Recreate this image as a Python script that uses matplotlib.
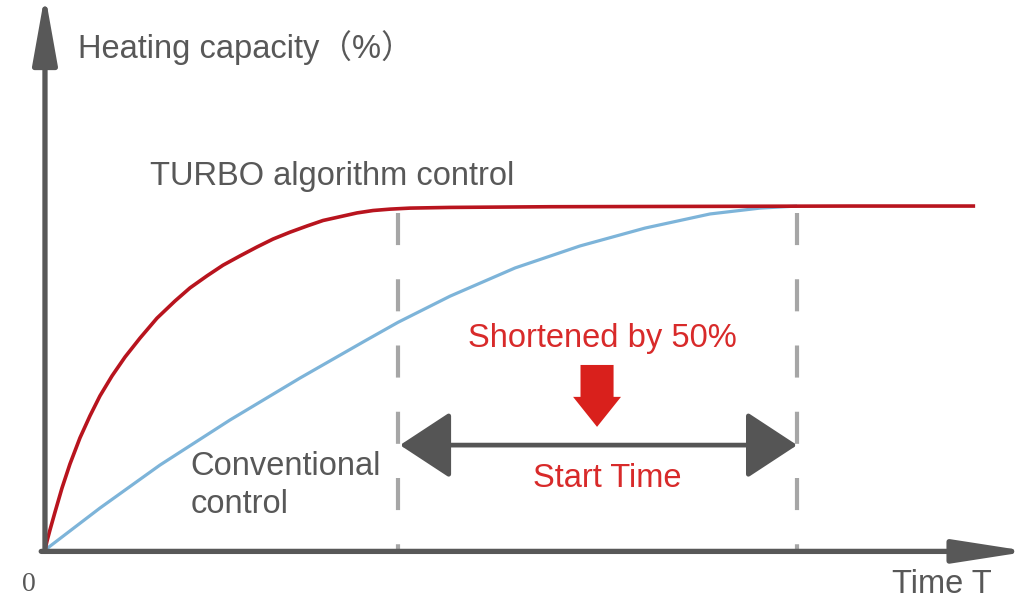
import matplotlib
matplotlib.use('Agg')
import matplotlib.pyplot as plt

# Curves: time (arbitrary units), heating capacity (%)
turbo_t = [0, 0.027, 0.066, 0.133, 0.226, 0.332, 0.465, 0.598, 0.731, 0.891,
           1.064, 1.263, 1.489, 1.729, 1.928, 2.154, 2.367, 2.593, 2.819, 3.032,
           3.258, 3.484, 3.697, 3.923, 4.149, 4.362, 4.588, 4.854, 5.386, 6.715,
           8.710, 10.705, 12.367]
turbo_cap = [0, 2.6, 5.8, 11.0, 18.0, 25.0, 32.6, 39.0, 44.8, 50.6,
             56.1, 61.6, 67.4, 72.4, 76.2, 79.7, 82.8, 85.5, 88.1, 90.4,
             92.4, 94.2, 95.8, 96.9, 98.0, 98.7, 99.1, 99.4, 99.6, 99.8,
             99.9, 100, 100]

conv_t = [0, 0.731, 1.529, 2.460, 3.391, 4.255, 4.694, 5.386, 6.250, 7.114,
          7.979, 8.843, 9.508, 10.0]
conv_cap = [0, 12.2, 24.7, 37.8, 50.0, 60.8, 66.2, 73.8, 82.0, 88.4,
            93.6, 97.7, 99.4, 100]

turbo_done = 4.69   # time the TURBO curve reaches full capacity
conv_done = 10.0    # time the conventional curve reaches full capacity

axis_gray = '#585858'
red_text = '#d82a2a'
font = ['Liberation Sans', 'Noto Sans CJK SC', 'DejaVu Sans']
fs = 23.5

fig = plt.figure(figsize=(10.25, 5.98), dpi=100)
ax = fig.add_axes([0, 0, 1, 1])
ax.set_xlim(-0.598, 13.03)
ax.set_ylim(-13.95, 159.9)
ax.axis('off')

# curves
ax.plot(conv_t, conv_cap, color='#7db4d9', lw=2.3, solid_capstyle='butt',
        solid_joinstyle='round', zorder=3)
ax.plot(turbo_t, turbo_cap, color='#b8141e', lw=2.6, solid_capstyle='butt',
        solid_joinstyle='round', zorder=4)

# dashed markers at the two finishing times
for t in (turbo_done, conv_done):
    ax.plot([t, t], [98.0, 0.3], color='#a6a6a6', lw=3,
            linestyle=(0, (7.7, 8.2)), zorder=2)

# axes with arrow heads
ax.annotate('', xy=(0, 161.6), xytext=(0, -0.4), annotation_clip=False,
            arrowprops=dict(arrowstyle='-|>,head_length=42,head_width=7.5',
                            mutation_scale=1, color=axis_gray, lw=3.8,
                            shrinkA=0, shrinkB=0), zorder=5)
ax.annotate('', xy=(13.08, -0.4), xytext=(-0.05, -0.4), annotation_clip=False,
            arrowprops=dict(arrowstyle='-|>,head_length=45,head_width=7',
                            mutation_scale=1, color=axis_gray, lw=3.8,
                            shrinkA=0, shrinkB=0), zorder=5)

# double arrow for the start time span
ax.annotate('', xy=(conv_done, 30.5), xytext=(turbo_done + 0.03, 30.5),
            arrowprops=dict(arrowstyle='<|-|>,head_length=32,head_width=21',
                            mutation_scale=1, color='#555555', lw=3.4,
                            shrinkA=0, shrinkB=0), zorder=5)

# red down arrow
ax.annotate('', xy=(7.34, 35.8), xytext=(7.34, 53.8),
            arrowprops=dict(arrowstyle='simple,head_length=21.6,head_width=34.5,tail_width=23.8',
                            mutation_scale=1, color='#d9201c', lw=0,
                            shrinkA=0, shrinkB=0), zorder=5)

# labels
ax.text(0.44, 143.0, 'Heating capacity（%）', fontsize=fs, color=axis_gray,
        family=font, va='baseline', ha='left')
ax.text(1.40, 106.1, 'TURBO algorithm control', fontsize=fs, color=axis_gray,
        family=font, va='baseline', ha='left')
ax.text(1.93, 21.8, 'Conventional', fontsize=fs, color=axis_gray,
        family=font, va='baseline', ha='left')
ax.text(1.93, 10.8, 'control', fontsize=fs, color=axis_gray,
        family=font, va='baseline', ha='left')
ax.text(7.41, 59.0, 'Shortened by 50%', fontsize=fs, color=red_text,
        family=font, va='baseline', ha='center')
ax.text(7.47, 18.3, 'Start Time', fontsize=fs, color=red_text,
        family=font, va='baseline', ha='center')
ax.text(11.26, -12.5, 'Time T', fontsize=fs, color=axis_gray,
        family=font, va='baseline', ha='left')
ax.text(-0.22, -11.9, '0', fontsize=20, color=axis_gray,
        family=['Liberation Serif', 'DejaVu Serif'], va='baseline', ha='center')

fig.savefig('out.png', dpi=100)
